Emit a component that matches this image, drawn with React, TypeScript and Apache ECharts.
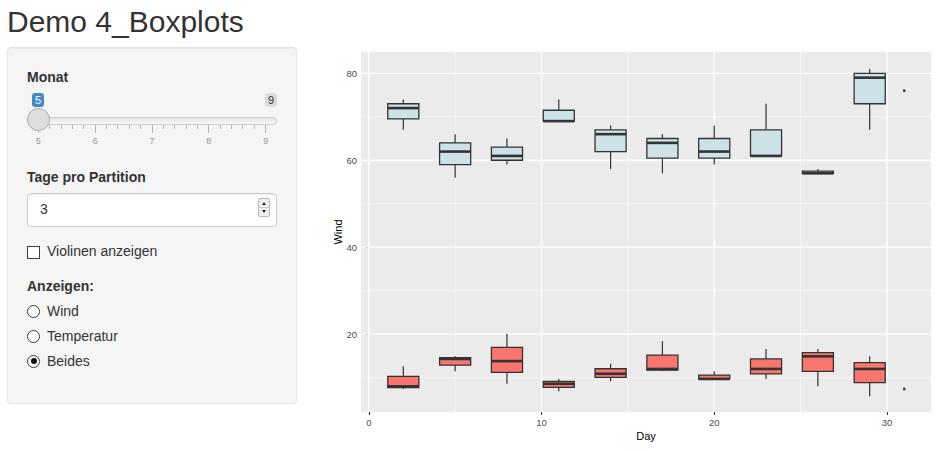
import React, { useEffect, useRef } from "react";
import * as echarts from "echarts";

// ---- data (airquality, May; partitions of 3 days) ----
const partitionCenter = [2, 5, 8, 11, 14, 17, 20, 23, 26, 29, 31];
const partitionDays = [3, 3, 3, 3, 3, 3, 3, 3, 3, 3, 1];

const upperMin = [67, 56, 59, 69, 58, 57, 59, 61, 57, 67, 76];
const upperQ1 = [69.5, 59, 60, 69, 62, 60.5, 60.5, 61, 57, 73, 76];
const upperMed = [72, 62, 61, 69, 66, 64, 62, 61, 57, 79, 76];
const upperQ3 = [73, 64, 63, 71.5, 67, 65, 65, 67, 57.5, 80, 76];
const upperMax = [74, 66, 65, 74, 68, 66, 68, 73, 58, 81, 76];

const lowerMin = [7.4, 11.5, 8.6, 6.9, 9.2, 11.5, 9.7, 9.7, 8.0, 5.7, 7.4];
const lowerQ1 = [7.7, 12.9, 11.2, 7.75, 10.05, 11.75, 9.7, 10.85, 11.45, 8.85, 7.4];
const lowerMed = [8.0, 14.3, 13.8, 8.6, 10.9, 12.0, 9.7, 12.0, 14.9, 12.0, 7.4];
const lowerQ3 = [10.3, 14.6, 16.95, 9.15, 12.05, 15.2, 10.6, 14.3, 15.75, 13.45, 7.4];
const lowerMax = [12.6, 14.9, 20.1, 9.7, 13.2, 18.4, 11.5, 16.6, 16.6, 14.9, 7.4];

const xTicks = [0, 10, 20, 30];
const xMinor = [5, 15, 25];
const yTicks = [20, 40, 60, 80];
const yMinor = [10, 30, 50, 70];

const sliderValues = [5, 6, 7, 8, 9];

const FONT = "'Liberation Sans', Arial, Helvetica, sans-serif";

function boxWidth(n: number) {
  return n > 1 ? (n - 1) * 0.9 : 0.12;
}

function buildBoxData(mn: number[], q1: number[], md: number[], q3: number[], mx: number[]) {
  return partitionCenter.map((c, i) => [c, mn[i], q1[i], md[i], q3[i], mx[i], boxWidth(partitionDays[i])]);
}

function boxSeries(data: number[][], fill: string) {
  return {
    type: "custom",
    z: 3,
    silent: true,
    data,
    renderItem: (params: any, api: any) => {
      const x = api.value(0);
      const pMin = api.coord([x, api.value(1)]);
      const yQ1 = api.coord([x, api.value(2)])[1];
      const yMed = api.coord([x, api.value(3)])[1];
      const yQ3 = api.coord([x, api.value(4)])[1];
      const yMax = api.coord([x, api.value(5)])[1];
      const cx = pMin[0];
      const yMin = pMin[1];
      const half = api.size([api.value(6), 0])[0] / 2;
      const stroke = "#333333";
      return {
        type: "group",
        children: [
          { type: "line", shape: { x1: cx, y1: yMax, x2: cx, y2: yQ3 }, style: { stroke, lineWidth: 1.2 } },
          { type: "line", shape: { x1: cx, y1: yQ1, x2: cx, y2: yMin }, style: { stroke, lineWidth: 1.2 } },
          {
            type: "rect",
            shape: { x: cx - half, y: yQ3, width: 2 * half, height: yQ1 - yQ3 },
            style: { fill, stroke, lineWidth: 1.3 },
          },
          { type: "line", shape: { x1: cx - half, y1: yMed, x2: cx + half, y2: yMed }, style: { stroke, lineWidth: 2.6 } },
        ],
      };
    },
  };
}

const gridData = [
  ...xTicks.map((v) => [0, v, 1]),
  ...xMinor.map((v) => [0, v, 0]),
  ...yTicks.map((v) => [1, v, 1]),
  ...yMinor.map((v) => [1, v, 0]),
];

function Chart() {
  const ref = useRef<HTMLDivElement>(null);
  useEffect(() => {
    if (!ref.current) return;
    const chart = echarts.init(ref.current, undefined, { renderer: "svg" });
    chart.setOption({
      animation: false,
      textStyle: { fontFamily: FONT },
      grid: { left: 61, right: 13, top: 52, bottom: 39, show: true, backgroundColor: "#EBEBEB", borderWidth: 0 },
      xAxis: {
        type: "value",
        min: -0.45,
        max: 32.55,
        name: "Day",
        nameLocation: "middle",
        nameGap: 18,
        nameMoveOverlap: false,
        nameTextStyle: { color: "#000", fontSize: 11, fontFamily: FONT },
        axisLine: { show: false },
        axisTick: { show: true, length: 3, lineStyle: { color: "#333", width: 1 }, customValues: xTicks },
        axisLabel: { customValues: xTicks, color: "#4D4D4D", fontSize: 9.5, margin: 5, fontFamily: FONT },
        splitLine: { show: false },
      },
      yAxis: {
        type: "value",
        min: 2.1,
        max: 84.9,
        name: "Wind",
        nameLocation: "middle",
        nameRotate: 90,
        nameGap: 18,
        nameMoveOverlap: false,
        nameTextStyle: { color: "#000", fontSize: 11, fontFamily: FONT },
        axisLine: { show: false },
        axisTick: { show: true, length: 3, lineStyle: { color: "#333", width: 1 }, customValues: yTicks },
        axisLabel: { customValues: yTicks, color: "#4D4D4D", fontSize: 9.5, margin: 4, fontFamily: FONT },
        splitLine: { show: false },
      },
      series: [
        {
          type: "custom",
          z: 1,
          silent: true,
          data: gridData,
          renderItem: (params: any, api: any) => {
            const cs = params.coordSys;
            const o = api.value(0);
            const v = api.value(1);
            const lw = api.value(2) ? 1.3 : 0.6;
            if (o === 0) {
              const px = api.coord([v, 40])[0];
              return { type: "line", shape: { x1: px, y1: cs.y, x2: px, y2: cs.y + cs.height }, style: { stroke: "#FFFFFF", lineWidth: lw } };
            }
            const py = api.coord([10, v])[1];
            return { type: "line", shape: { x1: cs.x, y1: py, x2: cs.x + cs.width, y2: py }, style: { stroke: "#FFFFFF", lineWidth: lw } };
          },
        },
        boxSeries(buildBoxData(upperMin, upperQ1, upperMed, upperQ3, upperMax), "#CDE2E8"),
        boxSeries(buildBoxData(lowerMin, lowerQ1, lowerMed, lowerQ3, lowerMax), "#F8766D"),
      ],
    });
    return () => chart.dispose();
  }, []);
  return <div ref={ref} style={{ position: "absolute", left: 300, top: 0, width: 644, height: 451 }} />;
}

function T(props: { x: number; y: number; size?: number; bold?: boolean; color?: string; center?: boolean; children: any }) {
  const size = props.size ?? 14;
  return (
    <div
      style={{
        position: "absolute",
        left: props.x,
        top: props.y - 0.8465 * size,
        fontSize: size,
        lineHeight: `${size}px`,
        fontWeight: props.bold ? 700 : 400,
        color: props.color ?? "#333",
        whiteSpace: "nowrap",
        transform: props.center ? "translateX(-50%)" : undefined,
      }}
    >
      {props.children}
    </div>
  );
}

function Radio({ cy, checked }: { cy: number; checked?: boolean }) {
  return (
    <div
      style={{
        position: "absolute",
        left: 27,
        top: cy - 6.5,
        width: 13,
        height: 13,
        boxSizing: "border-box",
        borderRadius: "50%",
        border: "1px solid #3c3c3c",
        background: "#fff",
      }}
    >
      {checked ? (
        <div style={{ position: "absolute", left: 2.5, top: 2.5, width: 6, height: 6, borderRadius: "50%", background: "#111" }} />
      ) : null}
    </div>
  );
}

function Sidebar() {
  const x0 = 38.3;
  const step = 56.85;
  const ticks: any[] = [];
  for (let k = 0; k <= 20; k++) {
    const major = k % 5 === 0;
    ticks.push(
      <div
        key={k}
        style={{
          position: "absolute",
          left: x0 + (k * step) / 5 - 0.5,
          top: 125,
          width: 1,
          height: major ? 8 : 4,
          background: "#b4b4b4",
        }}
      />
    );
  }
  return (
    <>
      <div
        style={{
          position: "absolute",
          left: 7,
          top: 47,
          width: 290,
          height: 357,
          boxSizing: "border-box",
          background: "#f5f5f5",
          border: "1px solid #e3e3e3",
          borderRadius: 4,
          boxShadow: "inset 0 1px 1px rgba(0,0,0,.05)",
        }}
      />
      <T x={27} y={82} bold>Monat</T>
      {/* slider */}
      <div style={{ position: "absolute", left: 28, top: 116.5, width: 249, height: 8, boxSizing: "border-box", border: "1px solid #cccccc", borderRadius: 8, background: "linear-gradient(to bottom, #dedede -50%, #ffffff 150%)" }} />
      {ticks}
      {sliderValues.map((v, i) => (
        <T key={v} x={x0 + i * step} y={144.5} size={9} color="#999" center>
          {v}
        </T>
      ))}
      <div style={{ position: "absolute", left: 32, top: 92.5, width: 12, height: 14, background: "#428bca", borderRadius: 3, color: "#fff", fontSize: 11, lineHeight: "14px", textAlign: "center" }}>
        5
      </div>
      <div style={{ position: "absolute", left: 265, top: 92.5, width: 12, height: 14, background: "#dcdcdc", borderRadius: 3, color: "#333", fontSize: 11, lineHeight: "14px", textAlign: "center" }}>
        9
      </div>
      <div style={{ position: "absolute", left: 27, top: 108, width: 23, height: 23, boxSizing: "border-box", borderRadius: "50%", border: "1px solid #ababab", background: "#dedede" }} />

      <T x={27} y={182} bold>Tage pro Partition</T>
      <div style={{ position: "absolute", left: 27, top: 193, width: 250, height: 34, boxSizing: "border-box", border: "1px solid #cccccc", borderRadius: 4, background: "#fff", boxShadow: "inset 0 1px 1px rgba(0,0,0,.075)" }} />
      <T x={40} y={214}>3</T>
      <div style={{ position: "absolute", left: 258, top: 198, width: 12, height: 19, boxSizing: "border-box", border: "1px solid #b8b8b8", borderRadius: 2, background: "#f0f0f0" }}>
        <div style={{ position: "absolute", left: 0, top: 8, width: 10, height: 1, background: "#c8c8c8" }} />
        <div style={{ position: "absolute", left: 2.5, top: 2.5, width: 0, height: 0, borderLeft: "2.5px solid transparent", borderRight: "2.5px solid transparent", borderBottom: "3px solid #222" }} />
        <div style={{ position: "absolute", left: 2.5, top: 11, width: 0, height: 0, borderLeft: "2.5px solid transparent", borderRight: "2.5px solid transparent", borderTop: "3px solid #222" }} />
      </div>

      <div style={{ position: "absolute", left: 27, top: 246, width: 13, height: 13, boxSizing: "border-box", border: "1px solid #3c3c3c", background: "#fff" }} />
      <T x={47} y={256}>Violinen anzeigen</T>

      <T x={27} y={291} bold>Anzeigen:</T>
      <Radio cy={311} />
      <T x={47} y={316}>Wind</T>
      <Radio cy={336} />
      <T x={47} y={341}>Temperatur</T>
      <Radio cy={361} checked />
      <T x={47} y={366}>Beides</T>
    </>
  );
}

export default function App() {
  return (
    <div
      style={{
        position: "fixed",
        left: 0,
        top: 0,
        width: 944,
        height: 451,
        background: "#fff",
        overflow: "hidden",
        fontFamily: FONT,
        color: "#333",
      }}
    >
      <T x={7} y={32} size={30}>Demo 4_Boxplots</T>
      <Sidebar />
      <Chart />
    </div>
  );
}
